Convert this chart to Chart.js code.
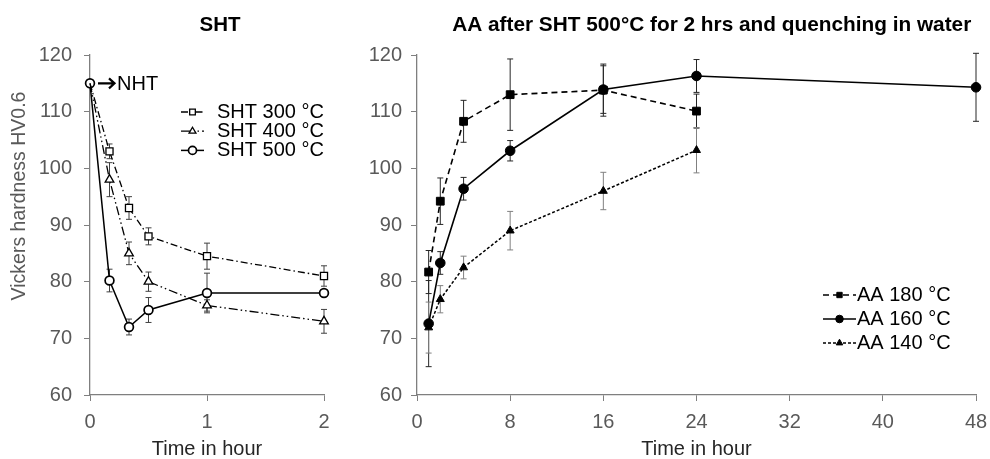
<!DOCTYPE html>
<html>
<head>
<meta charset="utf-8">
<script src="https://cdn.jsdelivr.net/npm/chart.js@4.4.1/dist/chart.umd.min.js"></script>
<style>
  body { margin: 0; background: #fff; }
  #wrap { position: relative; width: 990px; height: 459px; }
  canvas { position: absolute; top: 0; }
  #chart1 { left: 0; }
  #chart2 { left: 340px; }
</style>
</head>
<body>
<div id="wrap">
  <canvas id="chart1" width="340" height="459"></canvas>
  <canvas id="chart2" width="650" height="459"></canvas>
</div>
<script>
// SHT (left panel), time in hours
const shtTimes = [0, 1/6, 1/3, 0.5, 1, 2];
const sht300 = [115, 103, 93, 88, 84.5, 81];
const sht300Err = [0, 1.3, 2, 1.5, 2.3, 1.8];
const sht400 = [115, 98, 85, 80, 75.8, 73];
const sht400Err = [0, 3, 2, 1.7, 1, 2.1];
const sht500 = [115, 80.2, 72, 75, 78, 78];
const sht500Err = [0, 2, 1.4, 2.2, 3.5, 0.5];

// AA after SHT (right panel)
const aaTimes = [1, 2, 4, 8, 16, 24];
const aa160Times = [1, 2, 4, 8, 16, 24, 48];
const aa180 = [81.7, 94.2, 108.3, 113, 113.8, 110.1];
const aa180Err = [3.8, 4.1, 3.7, 6.3, 4.6, 3];
const aa160 = [72.6, 83.3, 96.4, 103.1, 113.9, 116.3, 114.3];
const aa160Err = [7.6, 2, 2, 1.8, 4.2, 2.9, 6];
const aa140 = [71.9, 76.9, 82.5, 89, 96, 103.2];
const aa140Err = [4.5, 2.4, 2, 3.4, 3.3, 4];

const hardnessTicks = [60, 70, 80, 90, 100, 110, 120];
const shtTimeTicks = [0, 1, 2];
const aaTimeTicks = [0, 8, 16, 24, 32, 40, 48];

const FONT = '"Liberation Sans", Arial, sans-serif';
const AXIS_GRAY = '#7f7f7f';
const TEXT_GRAY = '#595959';

function pts(xs, ys) {
  return xs.map((x, i) => ({ x: x, y: ys[i] }));
}

// error bars drawn under the markers
const errorBarPlugin = {
  id: 'errorBars',
  beforeDatasetsDraw(chart) {
    const ctx = chart.ctx;
    const xs = chart.scales.x, ys = chart.scales.y;
    chart.data.datasets.forEach(ds => {
      if (!ds.errorBars) return;
      ctx.save();
      ctx.strokeStyle = ds.errorColor || '#404040';
      ctx.lineWidth = 1;
      ds.data.forEach((p, i) => {
        const e = ds.errorBars[i];
        if (!e) return;
        const x = xs.getPixelForValue(p.x);
        const yt = ys.getPixelForValue(p.y + e);
        const yb = ys.getPixelForValue(p.y - e);
        ctx.beginPath();
        ctx.moveTo(x, yt); ctx.lineTo(x, yb);
        ctx.moveTo(x - 3, yt); ctx.lineTo(x + 3, yt);
        ctx.moveTo(x - 3, yb); ctx.lineTo(x + 3, yb);
        ctx.stroke();
      });
      ctx.restore();
    });
  }
};

// titles, y title, legend and the NHT note
const decoPlugin = {
  id: 'deco',
  afterDraw(chart, args, o) {
    const ctx = chart.ctx;
    ctx.save();
    ctx.textBaseline = 'middle';

    ctx.fillStyle = '#000';
    ctx.textAlign = 'center';
    ctx.font = 'bold ' + o.titleSize + 'px ' + FONT;
    ctx.fillText(o.title, o.titleX, o.titleY);

    if (o.yTitle) {
      ctx.save();
      ctx.translate(o.yTitleX, o.yTitleY);
      ctx.rotate(-Math.PI / 2);
      ctx.fillStyle = TEXT_GRAY;
      ctx.font = '19.5px ' + FONT;
      ctx.fillText(o.yTitle, 0, 0);
      ctx.restore();
    }

    // legend
    ctx.textAlign = 'left';
    ctx.font = '20px ' + FONT;
    chart.data.datasets.forEach((ds, i) => {
      const y = o.legendY + i * o.legendGap;
      const x0 = o.legendX, x1 = o.legendX + o.sampleW;
      ctx.strokeStyle = ds.borderColor;
      ctx.lineWidth = ds.borderWidth;
      ctx.setLineDash(ds.borderDash || []);
      ctx.beginPath(); ctx.moveTo(x0, y); ctx.lineTo(x1, y); ctx.stroke();
      ctx.setLineDash([]);
      ctx.fillStyle = ds.pointBackgroundColor;
      ctx.strokeStyle = ds.pointBorderColor;
      ctx.lineWidth = ds.pointBorderWidth;
      Chart.helpers.drawPoint(ctx, { pointStyle: ds.pointStyle, radius: o.markerR, borderWidth: ds.pointBorderWidth, rotation: 0 }, (x0 + x1) / 2, y);
      ctx.fillStyle = '#000';
      ctx.fillText(ds.label, x1 + o.textGap, y);
    });

    if (o.nht) {
      const px = chart.scales.x.getPixelForValue(shtTimes[0]);
      const py = chart.scales.y.getPixelForValue(sht500[0]);
      ctx.strokeStyle = '#000';
      ctx.lineWidth = 2.2;
      ctx.beginPath();
      ctx.moveTo(px + 8, py); ctx.lineTo(px + 24, py);
      ctx.moveTo(px + 19, py - 5); ctx.lineTo(px + 24.5, py); ctx.lineTo(px + 19, py + 5);
      ctx.stroke();
      ctx.fillStyle = '#000';
      ctx.fillText('NHT', px + 27, py + 1);
    }
    ctx.restore();
  }
};

function axes(xTicks, xMax, yWidth, yPad) {
  return {
    x: {
      type: 'linear', min: 0, max: xMax,
      afterBuildTicks: s => { s.ticks = xTicks.map(v => ({ value: v })); },
      afterFit: s => { s.height = 64; s.paddingLeft = 0; s.paddingRight = 0; },
      border: { color: AXIS_GRAY, width: 1.3 },
      grid: { drawOnChartArea: false, drawTicks: true, tickLength: 6, color: AXIS_GRAY },
      ticks: { color: TEXT_GRAY, font: { family: FONT, size: 20 }, padding: 9, maxRotation: 0 },
      title: { display: true, text: 'Time in hour', color: '#262626', font: { family: FONT, size: 20, lineHeight: 1 }, padding: 0 }
    },
    y: {
      type: 'linear', min: 60, max: 120,
      afterBuildTicks: s => { s.ticks = hardnessTicks.map(v => ({ value: v })); },
      afterFit: s => { s.width = yWidth; },
      border: { color: AXIS_GRAY, width: 1.3 },
      grid: { drawOnChartArea: false, drawTicks: true, tickLength: 6, color: AXIS_GRAY },
      ticks: { color: TEXT_GRAY, font: { family: FONT, size: 20 }, padding: yPad }
    }
  };
}

const hideFirst = r => ctx => ctx.dataIndex === 0 ? 0 : r;

new Chart(document.getElementById('chart1'), {
  type: 'line',
  data: {
    datasets: [{
      label: 'SHT 300 °C', data: pts(shtTimes, sht300), errorBars: sht300Err,
      borderColor: '#000', borderWidth: 1.3, borderDash: [7, 3, 1.5, 3],
      pointStyle: 'rect', pointRadius: hideFirst(5), pointBackgroundColor: '#fff', pointBorderColor: '#000', pointBorderWidth: 1.3
    }, {
      label: 'SHT 400 °C', data: pts(shtTimes, sht400), errorBars: sht400Err,
      borderColor: '#000', borderWidth: 1.3, borderDash: [9, 3, 1.5, 3, 1.5, 3],
      pointStyle: 'triangle', pointRadius: hideFirst(5), pointBackgroundColor: '#fff', pointBorderColor: '#000', pointBorderWidth: 1.3
    }, {
      label: 'SHT 500 °C', data: pts(shtTimes, sht500), errorBars: sht500Err,
      borderColor: '#000', borderWidth: 1.5,
      pointStyle: 'circle', pointRadius: 4.4, pointBackgroundColor: '#fff', pointBorderColor: '#000', pointBorderWidth: 1.7
    }]
  },
  options: {
    responsive: false, animation: false,
    layout: { padding: { top: 55, right: 16, left: 0, bottom: 0 } },
    datasets: { line: { tension: 0, clip: false } },
    scales: axes(shtTimeTicks, 2, 90, 12),
    plugins: {
      legend: { display: false }, tooltip: { enabled: false },
      deco: {
        title: 'SHT', titleSize: 20.5, titleX: 220, titleY: 25,
        yTitle: 'Vickers hardness HV0.6', yTitleX: 20, yTitleY: 196,
        legendX: 181, legendY: 112, legendGap: 19.2, sampleW: 23, textGap: 13, markerR: 4,
        nht: true
      }
    }
  },
  plugins: [errorBarPlugin, decoPlugin]
});

new Chart(document.getElementById('chart2'), {
  type: 'line',
  data: {
    datasets: [{
      label: 'AA 180 °C', data: pts(aaTimes, aa180), errorBars: aa180Err, errorColor: '#262626',
      borderColor: '#000', borderWidth: 1.6, borderDash: [6, 4],
      pointStyle: 'rect', pointRadius: 5.5, pointBackgroundColor: '#000', pointBorderColor: '#000', pointBorderWidth: 1
    }, {
      label: 'AA 160 °C', data: pts(aa160Times, aa160), errorBars: aa160Err, errorColor: '#262626',
      borderColor: '#000', borderWidth: 1.6,
      pointStyle: 'circle', pointRadius: 4.8, pointBackgroundColor: '#000', pointBorderColor: '#000', pointBorderWidth: 1
    }, {
      label: 'AA 140 °C', data: pts(aaTimes, aa140), errorBars: aa140Err, errorColor: '#808080',
      borderColor: '#000', borderWidth: 1.5, borderDash: [3, 2],
      pointStyle: 'triangle', pointRadius: 4.6, pointBackgroundColor: '#000', pointBorderColor: '#000', pointBorderWidth: 1
    }]
  },
  options: {
    responsive: false, animation: false,
    layout: { padding: { top: 55, right: 14, left: 0, bottom: 0 } },
    datasets: { line: { tension: 0, clip: false } },
    scales: axes(aaTimeTicks, 48, 77, 9),
    plugins: {
      legend: { display: false }, tooltip: { enabled: false },
      deco: {
        title: 'AA after SHT 500°C for 2 hrs and quenching in water', titleSize: 20.8, titleX: 371.7, titleY: 25,
        legendX: 483, legendY: 295, legendGap: 24, sampleW: 33, textGap: 1, markerR: 3.8
      }
    }
  },
  plugins: [errorBarPlugin, decoPlugin]
});
</script>
</body>
</html>
